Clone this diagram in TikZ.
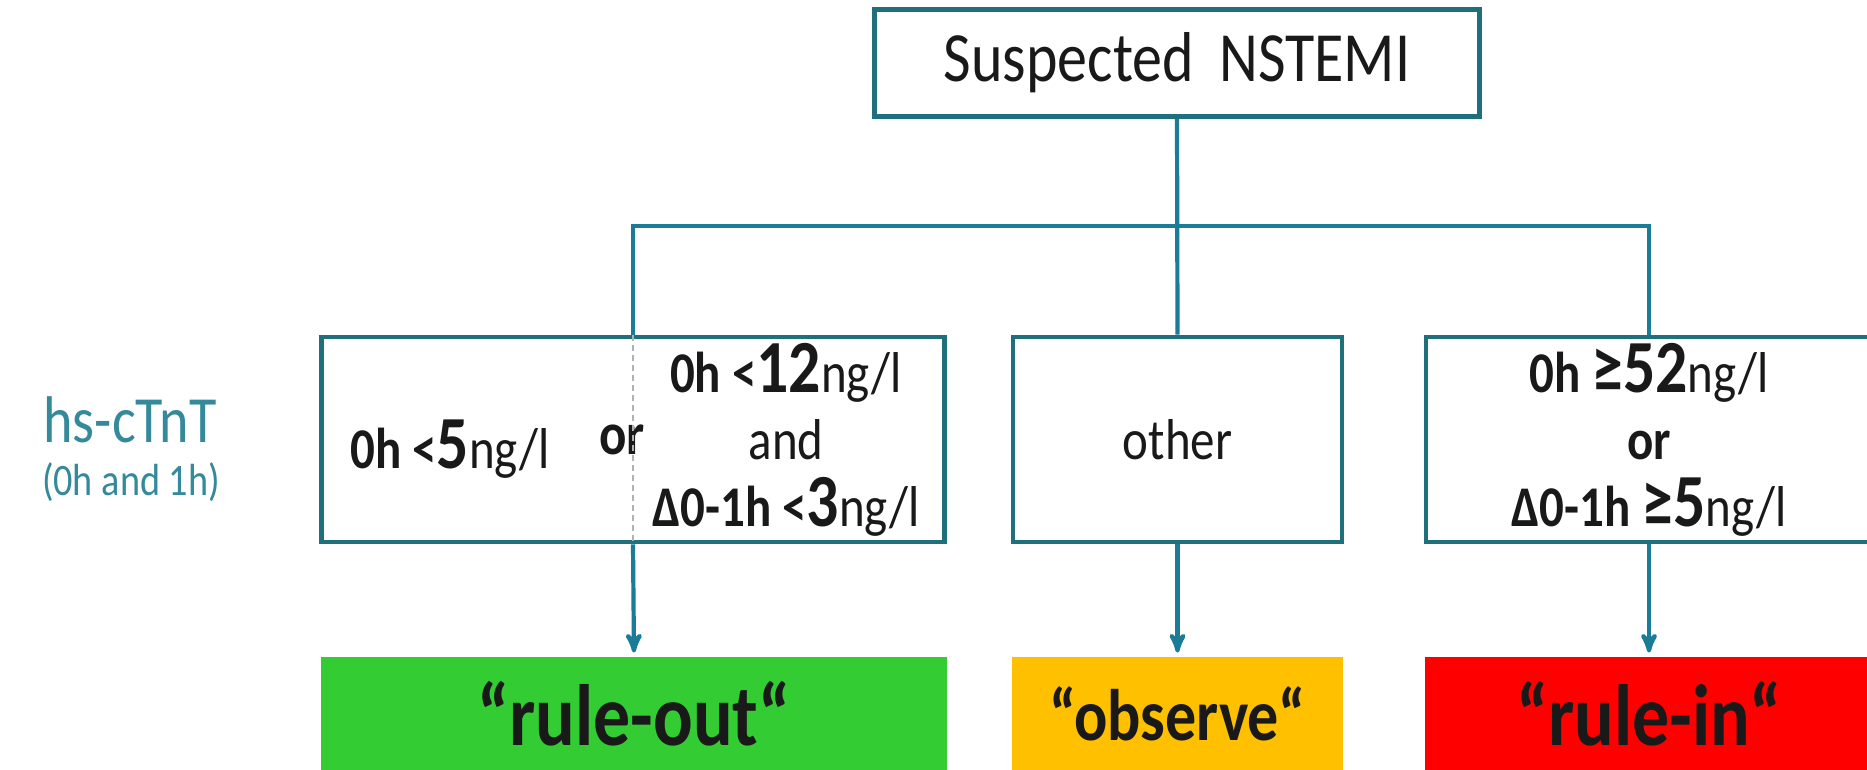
\documentclass[tikz,border=0pt]{standalone}
\usepackage{fontspec}
\setmainfont{Carlito}[FakeStretch=0.85]
\usepackage{tikz}
\usetikzlibrary{arrows}

\definecolor{boxline}{HTML}{1F6F7C}
\definecolor{linkline}{HTML}{1A7C97}
\definecolor{labelteal}{HTML}{34899A}
\definecolor{ruleoutgreen}{HTML}{33CC33}
\definecolor{observeamber}{HTML}{FFC000}
\definecolor{ruleinred}{HTML}{FF0000}

\newcommand{\bignum}[1]{{\fontsize{37.5}{33.5}\selectfont\bfseries #1}}

\begin{document}
\begin{tikzpicture}[x=0.5pt,y=-0.5pt,>=stealth',
                    every node/.style={inner sep=0pt,text=black!90}]
  \tikzstyle{critbox}=[draw=boxline,line width=2.4pt,rectangle,
                       minimum height=102.5pt,align=center]
  \tikzstyle{crittext}=[align=center,font=\fontsize{28.8}{33.5}\selectfont]
  \tikzstyle{outcome}=[rectangle,minimum height=57pt,
                       font=\fontsize{43.5}{45}\selectfont\bfseries]
  \tikzstyle{link}=[draw=linkline,line width=2.1pt]
  \tikzstyle{arrow}=[link,->,shorten >=2pt]

  \useasboundingbox (0,0) rectangle (1867,770);
  \clip (0,0) rectangle (1867,770);

  \node[critbox,minimum width=302.5pt,minimum height=53.5pt,
        font=\fontsize{35.3}{36}\selectfont] (nstemi) at (1177,63)
        {Suspected\, NSTEMI};

  \node[text=labelteal,font=\fontsize{33}{34}\selectfont] (marker) at (130,420) {hs-cTnT};
  \node[text=labelteal,font=\fontsize{22.5}{24}\selectfont] (timing) at (131,482) {(0h and 1h)};

  \node[critbox,minimum width=311.5pt] (outcrit) at (633,439.5) {};
  \node[critbox,minimum width=164.5pt] (othercrit) at (1177.5,439.5) {};
  \node[critbox,minimum width=223pt] (incrit) at (1649,439.5) {};

  \node[crittext] (lowzero) at (450,449) {\textbf{0h <}\bignum{5}ng/l};
  \node[crittext,font=\fontsize{30}{33.5}\selectfont\bfseries] (ortext) at (622,440) {or};
  \node[crittext] (lowdelta) at (786,440)
       {\textbf{0h <}\bignum{12}ng/l\\and\\\textbf{Δ0-1h <}\bignum{3}ng/l};
  \node[crittext] (othertext) at (1177.5,440) {other};
  \node[crittext] (hightext) at (1649,440)
       {\textbf{0h }\bignum{≥52}ng/l\\\textbf{or}\\\textbf{Δ0-1h }\bignum{≥5}ng/l};

  \node[outcome,fill=ruleoutgreen,minimum width=313pt] (ruleout) at (634,714) {“rule-out“};
  \node[outcome,fill=observeamber,minimum width=165.5pt,
        font=\fontsize{36.5}{38}\selectfont\bfseries] (observe) at (1177.5,714) {“observe“};
  \node[outcome,fill=ruleinred,minimum width=224pt] (rulein) at (1649,714) {“rule-in“};

  \coordinate (bar) at (1177,226);

  \draw[black!30,line width=0.6pt,dash pattern=on 3pt off 2pt]
       (outcrit.north) -- (outcrit.south);
  \draw[link] (nstemi.south) -- (othercrit.north);
  \draw[link] (outcrit.north) |- (bar) -| (incrit.north);

  \path (outcrit.south) edge[arrow] (ruleout.north)
        (othercrit.south) edge[arrow] (observe.north)
        (incrit.south) edge[arrow] (rulein.north);
\end{tikzpicture}
\end{document}
